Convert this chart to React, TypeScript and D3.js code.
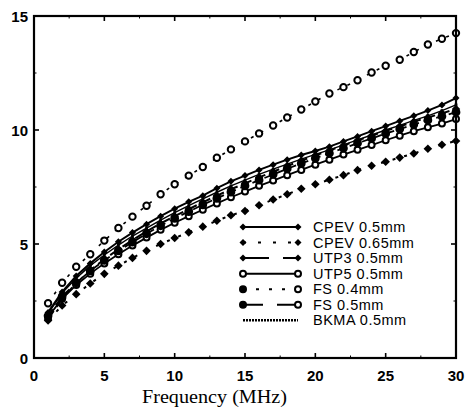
import React from 'react';
import * as d3 from 'd3';

// frequency points (MHz)
const freqs = [1, 2, 3, 4, 5, 6, 7, 8, 9, 10, 11, 12, 13, 14, 15, 16, 17, 18, 19, 20, 21, 22, 23, 24, 25, 26, 27, 28, 29, 30];

// attenuation values
const cpev05 = [2.0, 2.9, 3.6, 4.15, 4.65, 5.1, 5.5, 5.87, 6.22, 6.55, 6.85, 7.12, 7.45, 7.75, 8.0, 8.25, 8.48, 8.7, 8.9, 9.08, 9.27, 9.5, 9.72, 9.95, 10.17, 10.4, 10.62, 10.85, 11.1, 11.4];
const cpev065 = [1.65, 2.3, 2.8, 3.27, 3.69, 4.05, 4.39, 4.7, 5.0, 5.26, 5.51, 5.76, 6.02, 6.26, 6.45, 6.7, 6.95, 7.18, 7.42, 7.62, 7.82, 8.02, 8.24, 8.43, 8.61, 8.79, 8.97, 9.18, 9.35, 9.52];
const utp3 = [1.7, 2.6, 3.28, 3.85, 4.33, 4.77, 5.17, 5.55, 5.9, 6.22, 6.53, 6.83, 7.12, 7.4, 7.66, 7.92, 8.17, 8.42, 8.65, 8.88, 9.1, 9.32, 9.54, 9.75, 9.96, 10.16, 10.36, 10.55, 10.73, 10.92];
const utp5 = [1.8, 2.6, 3.2, 3.7, 4.15, 4.55, 4.93, 5.28, 5.62, 5.93, 6.22, 6.5, 6.78, 7.05, 7.3, 7.55, 7.78, 8.02, 8.25, 8.48, 8.7, 8.92, 9.13, 9.34, 9.55, 9.75, 9.95, 10.12, 10.28, 10.48];
const fs04 = [2.4, 3.3, 4.0, 4.55, 5.15, 5.7, 6.2, 6.68, 7.18, 7.62, 8.0, 8.38, 8.78, 9.15, 9.5, 9.85, 10.2, 10.55, 10.9, 11.25, 11.6, 11.88, 12.18, 12.52, 12.82, 13.08, 13.42, 13.75, 14.0, 14.25];
const fs05 = [1.85, 2.7, 3.3, 3.82, 4.28, 4.7, 5.08, 5.45, 5.8, 6.12, 6.42, 6.72, 7.0, 7.28, 7.55, 7.8, 8.05, 8.3, 8.53, 8.76, 8.98, 9.2, 9.42, 9.63, 9.84, 10.04, 10.24, 10.43, 10.6, 10.78];
const bkma = [1.95, 2.85, 3.5, 4.05, 4.52, 4.95, 5.35, 5.7, 6.05, 6.38, 6.68, 6.98, 7.27, 7.55, 7.8, 8.05, 8.28, 8.5, 8.72, 8.93, 9.13, 9.35, 9.57, 9.78, 10.0, 10.2, 10.42, 10.62, 10.85, 11.1];

const xTicks = [0, 5, 10, 15, 20, 25, 30];
const yTicks = [0, 5, 10, 15];

const seriesNames = ['CPEV 0.5mm', 'CPEV 0.65mm', 'UTP3 0.5mm', 'UTP5 0.5mm', 'FS 0.4mm', 'FS 0.5mm', 'BKMA 0.5mm'];
const seriesValues = [cpev05, cpev065, utp3, utp5, fs04, fs05, bkma];

// drawing styles, same order as seriesNames
const styles = [
  { dash: null, lw: 2, marker: 'diamond', ms: 3.5, fill: true, legendDash: null },
  { dash: '3 9', lw: 2, marker: 'diamond', ms: 4.3, fill: true, legendDash: '3 12' },
  { dash: '10 5', lw: 2, marker: 'diamond', ms: 4.2, fill: true, legendDash: '26 14' },
  { dash: null, lw: 1.8, marker: 'circle', ms: 3, fill: false, legendDash: null },
  { dash: '3 8', lw: 1.6, marker: 'circle', ms: 3.2, fill: false, legendDash: '3 10' },
  { dash: '8 5', lw: 1.8, marker: 'circle', ms: 3.4, fill: true, legendDash: '20 14' },
  { dash: null, lw: 1.4, marker: 'tick', ms: 1.4, fill: true, legendDash: '2 1' },
];

const W = 467;
const H = 418;
const left = 34, right = 456, top = 16, bottom = 358;

const Marker = ({ type, x, y, r, filled }: { type: string; x: number; y: number; r: number; filled?: boolean }) => {
  if (type === 'diamond') {
    return <path d={`M${x},${y - r}L${x + r},${y}L${x},${y + r}L${x - r},${y}Z`} fill="#000" />;
  }
  if (type === 'circle') {
    return <circle cx={x} cy={y} r={r} fill={filled ? '#000' : '#fff'} stroke="#000" strokeWidth={2} />;
  }
  return <rect x={x - r} y={y - r} width={r * 2} height={r * 2} fill="#000" />;
};

export default function App() {
  const x = d3.scaleLinear().domain([0, 30]).range([left, right]);
  const y = d3.scaleLinear().domain([0, 15]).range([bottom, top]);
  const line = d3.line<number>().x((_, i) => x(freqs[i])).y((d) => y(d));

  const minorX = d3.range(2.5, 30, 5);
  const minorY = d3.range(2.5, 15, 5);

  // bundle first, the separated curves on top
  const order = [3, 5, 2, 6, 0, 1, 4];

  const legX1 = 243, legX2 = 298, legText = 313, legY0 = 227, legStep = 15.55;

  return (
    <svg width={W} height={H} style={{ position: 'absolute', left: 0, top: 0, background: '#fff' }}>
      {/* series */}
      {order.map((k) => {
        const s = styles[k];
        return (
          <g key={seriesNames[k]}>
            <path d={line(seriesValues[k]) || ''} fill="none" stroke="#000" strokeWidth={s.lw} strokeDasharray={s.dash || undefined} />
            {seriesValues[k].map((v, i) => (
              <Marker key={i} type={s.marker} x={x(freqs[i])} y={y(v)} r={s.ms} filled={s.fill} />
            ))}
          </g>
        );
      })}

      {/* frame */}
      <rect x={left} y={top} width={right - left} height={bottom - top} fill="none" stroke="#000" strokeWidth={2.2} />

      {/* ticks */}
      {xTicks.slice(1, -1).map((t) => (
        <g key={'xt' + t}>
          <line x1={x(t)} x2={x(t)} y1={bottom} y2={bottom - 5} stroke="#000" strokeWidth={1.6} />
          <line x1={x(t)} x2={x(t)} y1={top} y2={top + 5} stroke="#000" strokeWidth={1.6} />
        </g>
      ))}
      {minorX.map((t) => (
        <g key={'xm' + t}>
          <line x1={x(t)} x2={x(t)} y1={bottom} y2={bottom - 2.5} stroke="#000" strokeWidth={1} />
          <line x1={x(t)} x2={x(t)} y1={top} y2={top + 2.5} stroke="#000" strokeWidth={1} />
        </g>
      ))}
      {yTicks.slice(1, -1).map((t) => (
        <g key={'yt' + t}>
          <line x1={left} x2={left + 5} y1={y(t)} y2={y(t)} stroke="#000" strokeWidth={1.6} />
          <line x1={right} x2={right - 5} y1={y(t)} y2={y(t)} stroke="#000" strokeWidth={1.6} />
        </g>
      ))}
      {minorY.map((t) => (
        <g key={'ym' + t}>
          <line x1={left} x2={left + 2.5} y1={y(t)} y2={y(t)} stroke="#000" strokeWidth={1} />
          <line x1={right} x2={right - 2.5} y1={y(t)} y2={y(t)} stroke="#000" strokeWidth={1} />
        </g>
      ))}

      {/* tick labels */}
      {xTicks.map((t) => (
        <text key={'xl' + t} x={x(t)} y={381} textAnchor="middle" fontFamily="Liberation Sans, Arial, sans-serif" fontWeight="bold" fontSize={15}>
          {t}
        </text>
      ))}
      {yTicks.map((t) => (
        <text key={'yl' + t} x={28} y={y(t) + 5.5} textAnchor="end" fontFamily="Liberation Sans, Arial, sans-serif" fontWeight="bold" fontSize={15}>
          {t}
        </text>
      ))}

      {/* axis title */}
      <text x={142} y={403} fontFamily="Liberation Serif, Times New Roman, serif" fontSize={19} textLength={145} lengthAdjust="spacingAndGlyphs">
        Frequency (MHz)
      </text>

      {/* legend */}
      {seriesNames.map((name, k) => {
        const s = styles[k];
        const ly = legY0 + k * legStep;
        const fsRow = name.startsWith('FS');
        return (
          <g key={'lg' + k}>
            <line x1={legX1} x2={legX2} y1={ly} y2={ly} stroke="#000" strokeWidth={s.marker === 'tick' ? 2.5 : 2} strokeDasharray={s.legendDash || undefined} />
            {s.marker !== 'tick' && (
              <>
                <Marker type={s.marker} x={legX1} y={ly} r={s.marker === 'diamond' ? 3.5 : 3} filled={s.marker === 'diamond' || fsRow} />
                <Marker type={s.marker} x={legX2} y={ly} r={s.marker === 'diamond' ? 3.5 : 3} filled={s.marker === 'diamond'} />
              </>
            )}
            <text x={legText} y={ly + 5} fontFamily="Liberation Sans, Arial, sans-serif" fontSize={14.5} letterSpacing={0.5}>
              {name}
            </text>
          </g>
        );
      })}
    </svg>
  );
}
